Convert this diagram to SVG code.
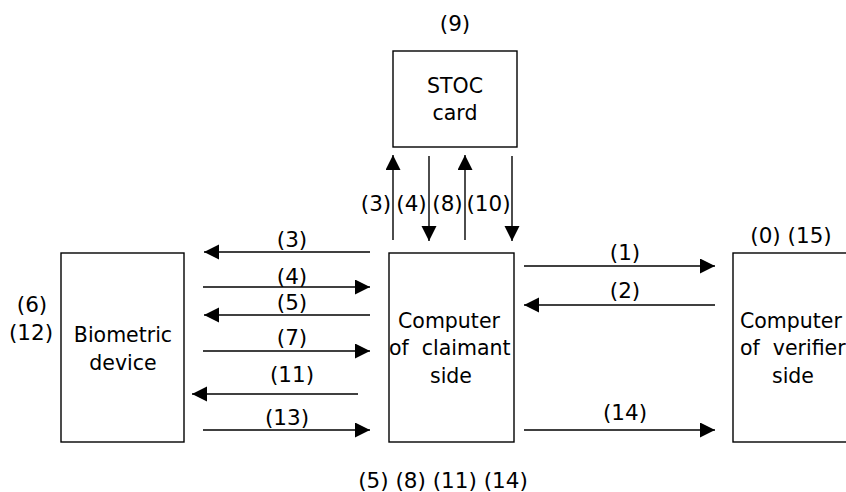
<svg xmlns="http://www.w3.org/2000/svg" width="846" height="492" viewBox="0 0 846 492">
  <defs>
    <marker id="head" markerUnits="userSpaceOnUse" markerWidth="16" markerHeight="16" viewBox="0 0 16 16" refX="15" refY="7.5" orient="auto">
      <path d="M0,0 L15,7.5 L0,15 Z" fill="#000"/>
    </marker>
    <style>
      .box { fill: #fff; stroke: #000; stroke-width: 1.4; }
      .t { font-family: "DejaVu Sans", Verdana, sans-serif; font-size: 20.5px; fill: #000; }
      .lb { font-family: "DejaVu Sans", Verdana, sans-serif; font-size: 21.5px; fill: #000; text-anchor: middle; }
      .c { text-anchor: middle; }
      .pre { white-space: pre; }
      .ln { stroke: #000; stroke-width: 1.4; fill: none; marker-end: url(#head); }
    </style>
  </defs>
  <rect width="846" height="492" fill="#fff"/>

  <!-- smart card -->
  <g id="stoc-card">
    <rect class="box" x="393" y="51" width="124" height="96"/>
    <text class="t c" x="455" y="93">STOC</text>
    <text class="t c" x="455" y="120">card</text>
    <text class="lb" x="455" y="31">(9)</text>
  </g>

  <!-- biometric device -->
  <g id="biometric-device">
    <rect class="box" x="61" y="253" width="123" height="189"/>
    <text class="t c" x="123" y="342">Biometric</text>
    <text class="t c" x="123" y="370">device</text>
    <text class="lb" x="32" y="312">(6)</text>
    <text class="lb" x="31" y="340">(12)</text>
  </g>

  <!-- claimant computer -->
  <g id="claimant-computer">
    <rect class="box" x="389" y="253" width="125" height="189"/>
    <text class="t c" x="449" y="328">Computer</text>
    <text class="t pre" x="389" y="355" xml:space="preserve">of  claimant</text>
    <text class="t c" x="451" y="383">side</text>
    <text class="lb" x="443" y="488">(5) (8) (11) (14)</text>
  </g>

  <!-- verifier computer -->
  <g id="verifier-computer">
    <rect class="box" x="733" y="253" width="126" height="189"/>
    <text class="t" x="740" y="328">Computer</text>
    <text class="t pre" x="740" y="355" xml:space="preserve">of  verifier</text>
    <text class="t c" x="793" y="383">side</text>
    <text class="lb" x="791" y="243">(0) (15)</text>
  </g>

  <!-- message flows -->
  <g id="connectors">
    <!-- card exchange -->
    <line class="ln" x1="393" y1="240" x2="393" y2="155"/>
    <line class="ln" x1="429" y1="156" x2="429" y2="241"/>
    <line class="ln" x1="465" y1="240" x2="465" y2="155"/>
    <line class="ln" x1="512" y1="156" x2="512" y2="241"/>
    <text class="lb" x="376" y="211">(3)</text>
    <text class="lb" x="411.5" y="211">(4)</text>
    <text class="lb" x="447.5" y="211">(8)</text>
    <text class="lb" x="488.5" y="211">(10)</text>

    <!-- biometric exchange -->
    <line class="ln" x1="370" y1="252" x2="204" y2="252"/>
    <line class="ln" x1="203" y1="287" x2="370" y2="287"/>
    <line class="ln" x1="370" y1="315" x2="204" y2="315"/>
    <line class="ln" x1="203" y1="351" x2="370" y2="351"/>
    <line class="ln" x1="358" y1="394" x2="192" y2="394"/>
    <line class="ln" x1="203" y1="430" x2="370" y2="430"/>
    <text class="lb" x="292" y="247">(3)</text>
    <text class="lb" x="292" y="284">(4)</text>
    <text class="lb" x="292" y="310">(5)</text>
    <text class="lb" x="292" y="345">(7)</text>
    <text class="lb" x="292" y="382">(11)</text>
    <text class="lb" x="287" y="425">(13)</text>

    <!-- verifier exchange -->
    <line class="ln" x1="524" y1="266" x2="715" y2="266"/>
    <line class="ln" x1="715" y1="305" x2="524" y2="305"/>
    <line class="ln" x1="524" y1="430" x2="715" y2="430"/>
    <text class="lb" x="625" y="260">(1)</text>
    <text class="lb" x="625" y="298">(2)</text>
    <text class="lb" x="625" y="420">(14)</text>
  </g>
</svg>
